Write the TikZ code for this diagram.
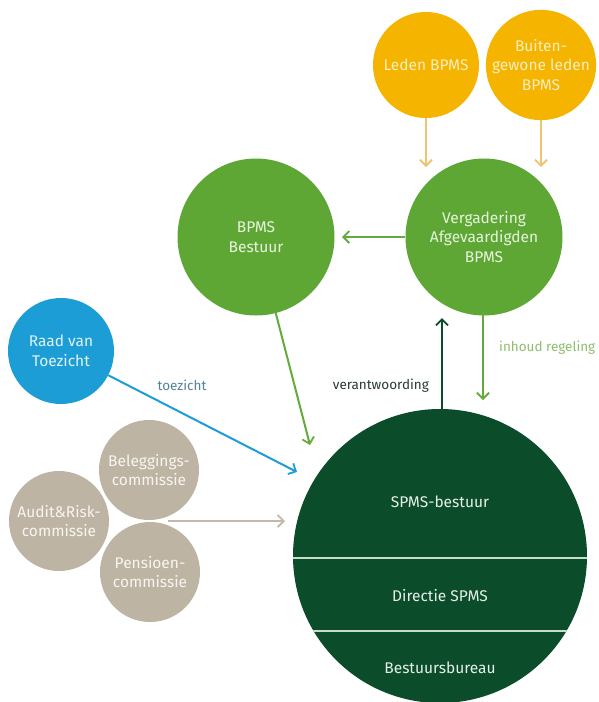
\documentclass[tikz,border=0pt]{standalone}
\usepackage{fontspec}
\setmainfont{Fira Sans}
\usetikzlibrary{arrows.meta}
\definecolor{orangeC}{RGB}{244,180,0}
\definecolor{orangeA}{RGB}{240,196,110}
\definecolor{greenC}{RGB}{94,167,52}
\definecolor{greenA}{RGB}{100,170,60}
\definecolor{darkC}{RGB}{11,76,42}
\definecolor{blueC}{RGB}{28,157,213}
\definecolor{beigeC}{RGB}{190,180,164}
\definecolor{beigeA}{RGB}{196,184,170}
\definecolor{txtO}{RGB}{255,238,190}
\definecolor{txtG}{RGB}{232,245,222}
\definecolor{txtD}{RGB}{230,240,232}
\definecolor{txtB}{RGB}{225,242,250}
\definecolor{txtBe}{RGB}{248,245,240}
\definecolor{lineD}{RGB}{200,222,200}
\definecolor{lblBlue}{RGB}{80,130,155}
\definecolor{lblDark}{RGB}{40,60,50}
\definecolor{lblGreen}{RGB}{140,190,110}
\tikzset{
  bubble/.style={circle, inner sep=0pt, align=center, font=\fontsize{15.5}{19.5}\selectfont},
  tip/.style={-{Straight Barb[length=6pt,width=12pt,line width=1.8pt]}, line width=2pt},
  lbl/.style={font=\fontsize{13.5}{15}\selectfont, inner sep=0pt}
}
\begin{document}
\begin{tikzpicture}[x=1pt,y=-1pt]
\useasboundingbox (0,0) rectangle (598,702);
% circles
\node[bubble, fill=orangeC, minimum size=106pt, text=txtO] (leden) at (426,65) {Leden BPMS};
\node[bubble, fill=orangeC, minimum size=106pt, text=txtO] (buiten) at (541,65) {Buiten-\\gewone leden\\BPMS};
\node[bubble, fill=greenC, minimum size=157pt, text=txtG] (verg) at (484,237) {Vergadering\\Afgevaardigden\\BPMS};
\node[bubble, fill=greenC, minimum size=157pt, text=txtG] (best) at (256,237) {BPMS\\Bestuur};
\node[bubble, fill=blueC, minimum size=106pt, text=txtB] (raad) at (61,351) {Raad van\\Toezicht};
\node[bubble, fill=beigeC, minimum size=100pt, text=txtBe] (audit) at (59,521) {Audit\&Risk-\\commissie};
\node[bubble, fill=beigeC, minimum size=100pt, text=txtBe] (bel) at (149,470) {Beleggings-\\commissie};
\node[bubble, fill=beigeC, minimum size=100pt, text=txtBe] (pens) at (150,572) {Pensioen-\\commissie};
% big circle
\node[circle, fill=darkC, minimum size=294pt, inner sep=0pt] (spms) at (440,556) {};
\begin{scope}
  \clip (440,556) circle (147pt);
  \draw[lineD, line width=2.5pt] (280,558) -- (600,558);
  \draw[lineD, line width=2.5pt] (280,631) -- (600,631);
\end{scope}
\node[bubble, text=txtD] (t1) at (440,502) {SPMS-bestuur};
\node[bubble, text=txtD] (t2) at (440,596) {Directie SPMS};
\node[bubble, text=txtD] (t3) at (440,668) {Bestuursbureau};
% connector end points
\coordinate (lEnd) at (426,167);
\coordinate (bEnd) at (541,167);
\coordinate (vEnd) at (342,237);
\coordinate (bsEnd) at (310,445);
\coordinate (rEnd) at (297,472);
\coordinate (cStart) at (168,521);
\coordinate (cEnd) at (285,521);
\coordinate (upStart) at (442,410);
\coordinate (upEnd) at (442,318);
\coordinate (dnStart) at (483,313);
\coordinate (dnEnd) at (483,400);
% connectors
\draw[tip, orangeA] (leden.south) -- (lEnd);
\draw[tip, orangeA] (buiten.south) -- (bEnd);
\draw[tip, greenA] (verg.west) -- (vEnd);
\draw[tip, greenA] (best) -- (bsEnd);
\draw[tip, blueC] (raad) -- (rEnd);
\draw[tip, beigeA] (cStart) -- (cEnd);
\draw[tip, darkC] (upStart) -- (upEnd);
\draw[tip, greenA] (dnStart) -- (dnEnd);
% labels
\node[lbl, text=lblBlue] (ltoe) at (182,385) {toezicht};
\node[lbl, text=lblDark, anchor=east] (lver) at (429,386) {verantwoording};
\node[lbl, text=lblGreen, anchor=west] (linh) at (499,348) {inhoud regeling};
\end{tikzpicture}
\end{document}
